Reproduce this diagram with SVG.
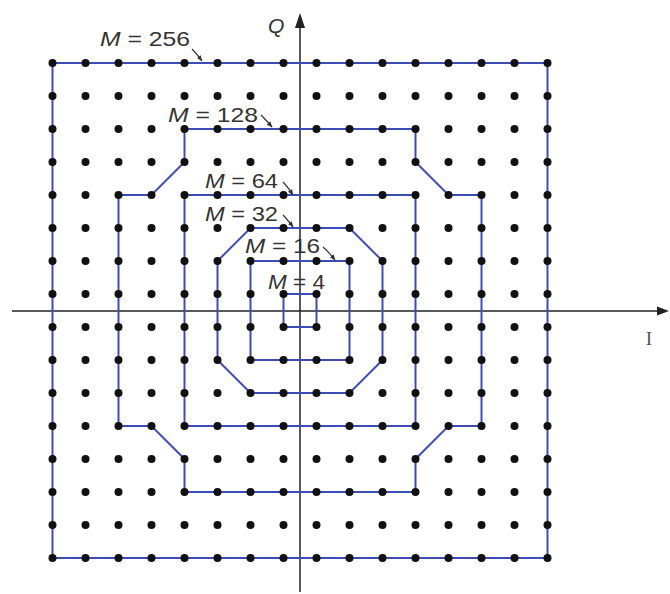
<svg xmlns="http://www.w3.org/2000/svg" xmlns:xlink="http://www.w3.org/1999/xlink" width="670" height="594" viewBox="0 0 670 594">
<style>
.bd{fill:none;stroke:#3d4cb3;stroke-width:2;stroke-linejoin:miter}
.ax{stroke:#222;stroke-width:1.5;fill:none}
.lbl{font-family:"Liberation Sans",Arial,sans-serif;font-size:21px;fill:#333}
.ld{stroke:#333;stroke-width:1.2;fill:none;marker-end:url(#ah)}
.dot{fill:#111}
</style>
<defs>
<marker id="ah" viewBox="0 0 10 10" refX="9" refY="5" markerWidth="6" markerHeight="6" orient="auto" markerUnits="userSpaceOnUse">
<path d="M0,1 L10,5 L0,9 Z" fill="#333"/>
</marker>
<g id="row">
<circle class="dot" cx="52.5" cy="0" r="4"/><circle class="dot" cx="85.5" cy="0" r="4"/><circle class="dot" cx="118.5" cy="0" r="4"/><circle class="dot" cx="151.5" cy="0" r="4"/><circle class="dot" cx="184.5" cy="0" r="4"/><circle class="dot" cx="217.5" cy="0" r="4"/><circle class="dot" cx="250.5" cy="0" r="4"/><circle class="dot" cx="283.5" cy="0" r="4"/><circle class="dot" cx="316.5" cy="0" r="4"/><circle class="dot" cx="349.5" cy="0" r="4"/><circle class="dot" cx="382.5" cy="0" r="4"/><circle class="dot" cx="415.5" cy="0" r="4"/><circle class="dot" cx="448.5" cy="0" r="4"/><circle class="dot" cx="481.5" cy="0" r="4"/><circle class="dot" cx="514.5" cy="0" r="4"/><circle class="dot" cx="547.5" cy="0" r="4"/>
</g>
</defs>
<rect width="670" height="594" fill="#fff"/>
<g id="axes">
<line class="ax" x1="12" y1="311" x2="660" y2="311"/>
<path d="M669,311 L657,306.5 L657,315.5 Z" fill="#222"/>
<line class="ax" x1="300" y1="24" x2="300" y2="592"/>
<path d="M300,13 L295,28 L305,28 Z" fill="#222"/>
<text x="268" y="33" style="font-family:'Liberation Sans',Arial,sans-serif;font-size:21px;font-style:italic;fill:#333">Q</text>
<text x="649" y="345" text-anchor="middle" style="font-family:'Liberation Serif','Times New Roman',serif;font-size:19px;fill:#555">I</text>
</g>
<g id="boundaries">
<rect id="m256" class="bd" x="52.5" y="63" width="495" height="495"/>
<polygon id="m128" class="bd" points="184.5,129 415.5,129 415.5,162 448.5,195 481.5,195 481.5,426 448.5,426 415.5,459 415.5,492 184.5,492 184.5,459 151.5,426 118.5,426 118.5,195 151.5,195 184.5,162"/>
<rect id="m64" class="bd" x="184.5" y="195" width="231" height="231"/>
<polygon id="m32" class="bd" points="250.5,228 349.5,228 382.5,261 382.5,360 349.5,393 250.5,393 217.5,360 217.5,261"/>
<rect id="m16" class="bd" x="250.5" y="261" width="99" height="99"/>
<rect id="m4" class="bd" x="283.5" y="294" width="33" height="33"/>
</g>
<g id="points">
<use xlink:href="#row" y="63"/><use xlink:href="#row" y="96"/><use xlink:href="#row" y="129"/><use xlink:href="#row" y="162"/>
<use xlink:href="#row" y="195"/><use xlink:href="#row" y="228"/><use xlink:href="#row" y="261"/><use xlink:href="#row" y="294"/>
<use xlink:href="#row" y="327"/><use xlink:href="#row" y="360"/><use xlink:href="#row" y="393"/><use xlink:href="#row" y="426"/>
<use xlink:href="#row" y="459"/><use xlink:href="#row" y="492"/><use xlink:href="#row" y="525"/><use xlink:href="#row" y="558"/>
</g>
<g id="labels">
<text class="lbl" x="100" y="46" textLength="90" lengthAdjust="spacingAndGlyphs"><tspan font-style="italic">M</tspan> = 256</text>
<text class="lbl" x="168" y="122" textLength="90" lengthAdjust="spacingAndGlyphs"><tspan font-style="italic">M</tspan> = 128</text>
<text class="lbl" x="205" y="188" textLength="73" lengthAdjust="spacingAndGlyphs"><tspan font-style="italic">M</tspan> = 64</text>
<text class="lbl" x="205" y="221" textLength="73" lengthAdjust="spacingAndGlyphs"><tspan font-style="italic">M</tspan> = 32</text>
<text class="lbl" x="245" y="253" textLength="75" lengthAdjust="spacingAndGlyphs"><tspan font-style="italic">M</tspan> = 16</text>
<text class="lbl" x="268" y="289" textLength="57" lengthAdjust="spacingAndGlyphs"><tspan font-style="italic">M</tspan> = 4</text>
</g>
<g id="leaders">
<path class="ld" d="M192,49 Q196,53 202,61"/>
<path class="ld" d="M261,115 Q265,119 272,127"/>
<path class="ld" d="M283,182 Q287,186 293,195"/>
<path class="ld" d="M283,215 Q287,219 293,227"/>
<path class="ld" d="M323,247 Q328,251 335,260"/>
</g>
</svg>
